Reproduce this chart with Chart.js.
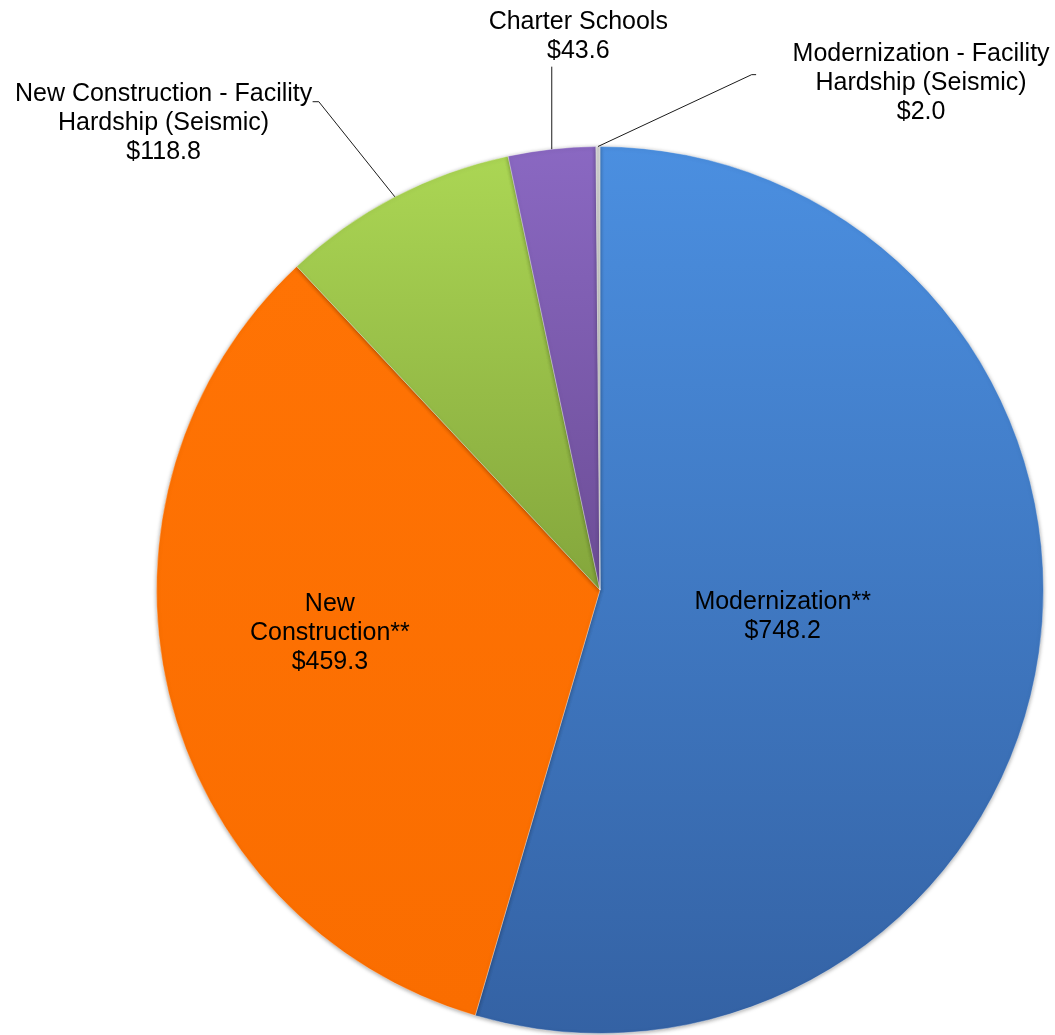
<!DOCTYPE html>
<html>
<head>
<meta charset="utf-8">
<script src="https://cdn.jsdelivr.net/npm/chart.js@4/dist/chart.umd.min.js"></script>
<style>
  body { margin: 0; background: #fff; }
  #chart { display: block; }
</style>
</head>
<body>
<canvas id="chart" width="1055" height="1035"></canvas>
<script>
"use strict";

// values in $ millions, clockwise from 12 o'clock
var categories = [
    ["Modernization**"],
    ["New", "Construction**"],
    ["New Construction - Facility", "Hardship (Seismic)"],
    ["Charter Schools"],
    ["Modernization - Facility", "Hardship (Seismic)"]
];
var amounts = [748.2, 459.3, 118.8, 43.6, 2.0];

// top / bottom colours of each slice's gradient
var topColors = ["#4b8fe0", "#ff7304", "#abd654", "#8a68c2", "#d0d0d0"];
var bottomColors = ["#3462a4", "#fa6d00", "#84a63c", "#6c4d96", "#a8a8a8"];

// label placement, in units of the pie radius from the centre
var labelStyles = [
    { inside: true, r: 0.416, dx: 0, dy: 0 },
    { inside: true, r: 0.62, dx: -0.006, dy: -0.047 },
    { inside: false, label: [-0.984, -1.052], bend: [-0.634, -1.101], stub: [-0.648, -1.101] },
    { inside: false, label: [-0.049, -1.247], bend: null, stub: null, vertical: -1.18 },
    { inside: false, label: [0.724, -1.144], bend: [0.342, -1.162], stub: [0.352, -1.162] }
];

var FONT = "25px 'Liberation Sans', Arial, sans-serif";
var LINE_H = 29;

function money(v) {
    return "$" + v.toFixed(1);
}

var gradientPlugin = {
    id: "sliceGradients",
    beforeDatasetsDraw: function (chart) {
        var ctx = chart.ctx;
        chart.getDatasetMeta(0).data.forEach(function (arc, i) {
            var minY = Infinity, maxY = -Infinity;
            var n = 40;
            for (var k = 0; k <= n; k++) {
                var a = arc.startAngle + (arc.endAngle - arc.startAngle) * k / n;
                var y = arc.y + arc.outerRadius * Math.sin(a);
                minY = Math.min(minY, y);
                maxY = Math.max(maxY, y);
            }
            minY = Math.min(minY, arc.y);
            maxY = Math.max(maxY, arc.y);
            var g = ctx.createLinearGradient(0, minY, 0, maxY);
            g.addColorStop(0, topColors[i]);
            g.addColorStop(1, bottomColors[i]);
            arc.options.backgroundColor = g;
        });
        ctx.save();
        ctx.shadowColor = "rgba(0,0,0,0.35)";
        ctx.shadowBlur = 4;
        ctx.shadowOffsetY = 1;
    },
    afterDatasetsDraw: function (chart) {
        chart.ctx.restore();
    }
};

var labelPlugin = {
    id: "sliceLabels",
    afterDatasetsDraw: function (chart) {
        var ctx = chart.ctx;
        var meta = chart.getDatasetMeta(0);
        ctx.save();
        ctx.font = FONT;
        ctx.fillStyle = "#000";
        ctx.textAlign = "center";
        ctx.textBaseline = "middle";
        ctx.strokeStyle = "#000";
        ctx.lineWidth = 0.9;

        meta.data.forEach(function (arc, i) {
            var s = labelStyles[i];
            var R = arc.outerRadius;
            var cx = arc.x, cy = arc.y;
            var mid = (arc.startAngle + arc.endAngle) / 2;
            var lines = categories[i].concat([money(amounts[i])]);
            var px, py;

            if (s.inside) {
                px = cx + Math.cos(mid) * s.r * R + s.dx * R;
                py = cy + Math.sin(mid) * s.r * R + s.dy * R;
            }
            else {
                var ex = cx + Math.cos(mid) * R;
                var ey = cy + Math.sin(mid) * R;
                ctx.beginPath();
                ctx.moveTo(ex, ey);
                if (s.bend) {
                    ctx.lineTo(cx + s.bend[0] * R, cy + s.bend[1] * R);
                    ctx.lineTo(cx + s.stub[0] * R, cy + s.stub[1] * R);
                }
                else {
                    ctx.lineTo(ex, cy + s.vertical * R);
                }
                ctx.stroke();
                px = cx + s.label[0] * R;
                py = cy + s.label[1] * R;
            }

            var y0 = py - (lines.length - 1) * LINE_H / 2;
            lines.forEach(function (t, k) {
                ctx.fillText(t, px, y0 + k * LINE_H);
            });
        });
        ctx.restore();
    }
};

var config = {
    type: "pie",
    data: {
        labels: categories.map(function (c) { return c.join(" "); }),
        datasets: [{
            data: amounts,
            backgroundColor: topColors,
            borderColor: "rgba(255,255,255,0.35)",
            borderWidth: 1
        }]
    },
    plugins: [gradientPlugin, labelPlugin],
    options: {
        responsive: false,
        animation: false,
        layout: {
            padding: { left: 155, right: 10, top: 146, bottom: 1 }
        },
        plugins: {
            legend: { display: false },
            tooltip: { enabled: false }
        }
    }
};

new Chart(document.getElementById("chart"), config);
</script>
</body>
</html>
